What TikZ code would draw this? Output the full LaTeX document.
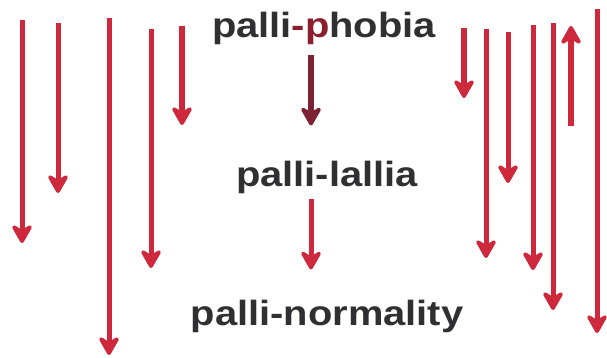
\documentclass[tikz,border=0pt]{standalone}
\usepackage{fontspec}
\setmainfont{Liberation Sans}
\usetikzlibrary{arrows.meta}
\definecolor{arrred}{RGB}{206,40,60}
\definecolor{darkred}{RGB}{125,34,50}
\definecolor{pred}{RGB}{140,30,45}
\definecolor{txtgray}{RGB}{48,48,50}
\begin{document}
\begin{tikzpicture}[x=1pt,y=-1pt,
  word/.style={font=\fontsize{35}{40}\selectfont\bfseries, text=txtgray, inner sep=0pt, anchor=base, xscale=1.14},
  redarr/.style={draw=arrred, line width=5pt, -{Stealth[length=23pt,width=26pt,inset=8pt,round]}},
  thickarr/.style={redarr, line width=6.5pt},
  darkarr/.style={redarr, draw=darkred, line width=5.5pt}]
\useasboundingbox (0,0) rectangle (607,358);
\fill[white] (0,0) rectangle (607,358);
% text nodes
\node[word] (phobia) at (324,38) {palli\textcolor{pred}{-p}hobia};
\node[word] (lallia) at (327,186) {palli-lallia};
\node[word] (normality) at (327,325) {palli-normality};
% central connectors
\coordinate (px) at (311,0);
\draw[darkarr, shorten <=10pt, shorten >=35pt] (phobia.south -| px) -- (lallia.north -| px);
\draw[redarr, shorten <=6pt, shorten >=30pt] (lallia.south -| px) -- (normality.north -| px);
% left arrows
\coordinate (l1s) at (22,20);  \coordinate (l1e) at (22,243);
\coordinate (l2s) at (58,23);  \coordinate (l2e) at (58,193);
\coordinate (l3s) at (109,18); \coordinate (l3e) at (109,355);
\coordinate (l4s) at (151,29); \coordinate (l4e) at (151,268);
\coordinate (l5s) at (182,26); \coordinate (l5e) at (182,125);
\draw[redarr] (l1s) -- (l1e);
\draw[redarr] (l2s) -- (l2e);
\draw[redarr] (l3s) -- (l3e);
\draw[redarr] (l4s) -- (l4e);
\draw[thickarr] (l5s) -- (l5e);
% right arrows
\coordinate (r1s) at (464,28);  \coordinate (r1e) at (464,98);
\coordinate (r2s) at (486,29);  \coordinate (r2e) at (486,258);
\coordinate (r3s) at (508,32);  \coordinate (r3e) at (508,183);
\coordinate (r4s) at (533,25);  \coordinate (r4e) at (533,270);
\coordinate (r5s) at (553,23);  \coordinate (r5e) at (553,310);
\coordinate (r6s) at (571,126); \coordinate (r6e) at (571,26);
\coordinate (r7s) at (597,9);   \coordinate (r7e) at (597,333);
\draw[thickarr] (r1s) -- (r1e);
\draw[redarr] (r2s) -- (r2e);
\draw[redarr] (r3s) -- (r3e);
\draw[redarr] (r4s) -- (r4e);
\draw[redarr] (r5s) -- (r5e);
\draw[thickarr] (r6s) -- (r6e);
\draw[redarr] (r7s) -- (r7e);
\end{tikzpicture}
\end{document}
